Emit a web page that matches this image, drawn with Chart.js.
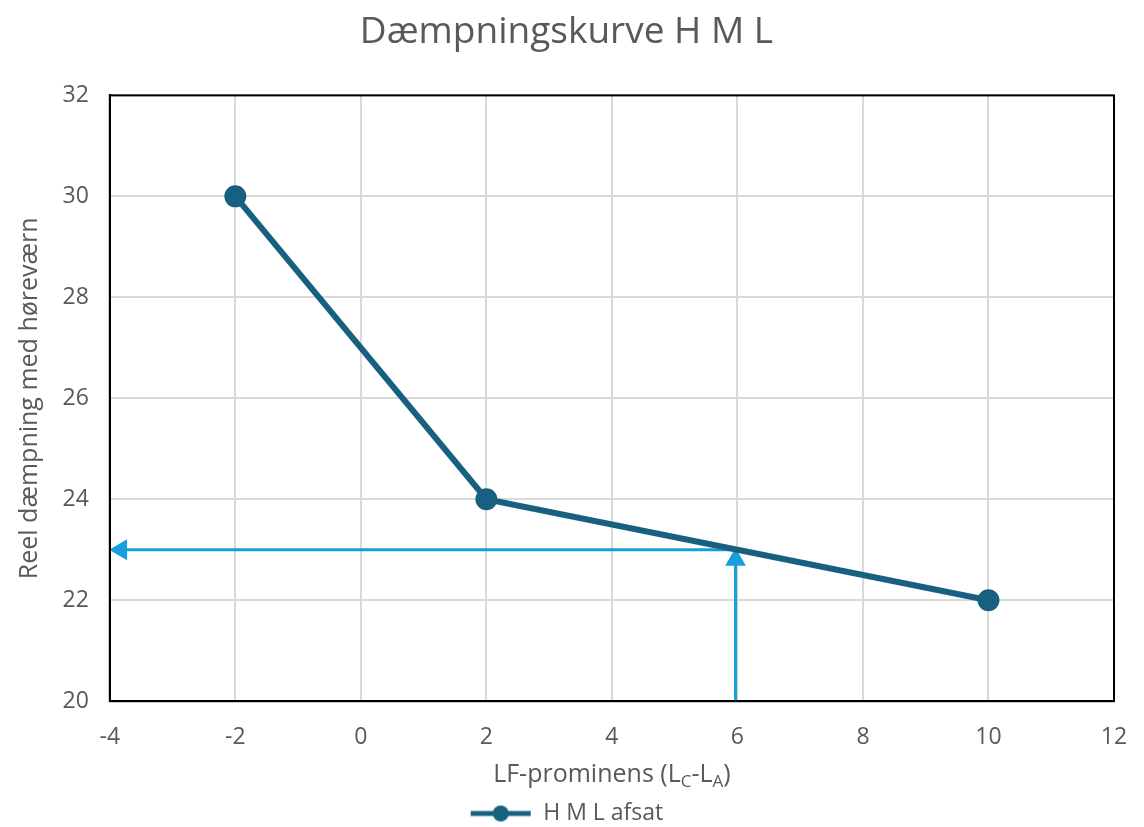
<!DOCTYPE html>
<html>
<head>
<meta charset="utf-8">
<script src="https://cdn.jsdelivr.net/npm/chart.js@4"></script>
<style>
  body { margin: 0; background: #fff; }
  #wrap { width: 1144px; height: 827px; }
</style>
</head>
<body>
<div id="wrap"><canvas id="myChart" width="1144" height="827"></canvas></div>
<script>
// data
const xValues = [-2, 2, 10];
const yValues = [30, 24, 22];
const seriesName = 'H M L afsat';
// reading arrows: from x=6 up to the curve, then across to the y axis
const readX = 6;
const readY = 23;
const arrowEndX = -3.82;
const yMinTick = 20;

const lineColor = 'rgb(24, 96, 128)';
const arrowColor = 'rgb(22, 160, 219)';
const textColor = '#595959';
const fontFam = '"Open Sans", "Noto Sans", sans-serif';

const points = xValues.map((x, i) => ({ x: x, y: yValues[i] }));

// legend symbol: line with a dot
function legendIcon() {
  const c = document.createElement('canvas');
  c.width = 62; c.height = 18;
  const g = c.getContext('2d');
  g.strokeStyle = lineColor; g.lineWidth = 5;
  g.beginPath(); g.moveTo(1, 9); g.lineTo(61, 9); g.stroke();
  g.fillStyle = lineColor;
  g.beginPath(); g.arc(31, 9, 8, 0, Math.PI * 2); g.fill();
  return c;
}
const icon = legendIcon();

// frame round the plot and the x title with subscripts
const frame = {
  id: 'frame',
  afterDraw(chart) {
    const a = chart.chartArea, ctx = chart.ctx;
    ctx.save();
    ctx.strokeStyle = '#000';
    ctx.lineWidth = 2;
    ctx.strokeRect(a.left, a.top, a.right - a.left, a.bottom - a.top);

    const parts = [['LF-prominens (L', 0], ['C', 1], ['-L', 0], ['A', 1], [')', 0]];
    const big = '25px ' + fontFam, small = '17px ' + fontFam;
    let w = 0;
    parts.forEach(p => { ctx.font = p[1] ? small : big; w += ctx.measureText(p[0]).width; });
    let x = (a.left + a.right) / 2 - w / 2;
    const y = 775;
    ctx.fillStyle = textColor;
    ctx.textBaseline = 'middle';
    parts.forEach(p => {
      ctx.font = p[1] ? small : big;
      ctx.fillText(p[0], x, p[1] ? y + 7 : y);
      x += ctx.measureText(p[0]).width;
    });
    ctx.restore();
  }
};

const data = {
  datasets: [
    {
      label: seriesName,
      data: points,
      borderColor: lineColor,
      backgroundColor: lineColor,
      borderWidth: 6,
      pointRadius: 8,
      pointHoverRadius: 8,
      showLine: true,
      order: 0
    },
    {
      label: 'arrowH',
      data: [{ x: readX, y: readY }, { x: arrowEndX, y: readY }],
      borderColor: arrowColor,
      backgroundColor: arrowColor,
      borderWidth: 3,
      pointStyle: 'triangle',
      pointRadius: [0, 9],
      rotation: [0, -90],
      showLine: true,
      order: 1
    },
    {
      label: 'arrowV',
      data: [{ x: readX - 0.03, y: yMinTick }, { x: readX - 0.03, y: readY - 0.2 }],
      borderColor: arrowColor,
      backgroundColor: arrowColor,
      borderWidth: 3,
      pointStyle: 'triangle',
      pointRadius: [0, 9],
      rotation: [0, 0],
      showLine: true,
      order: 1
    }
  ]
};

const config = {
  type: 'scatter',
  data: data,
  options: {
    responsive: false,
    animation: false,
    layout: { padding: { left: 19, right: 30, top: 4, bottom: -8 } },
    plugins: {
      title: {
        display: true,
        text: 'Dæmpningskurve H M L',
        color: textColor,
        font: { family: fontFam, size: 37, weight: 'normal' },
        padding: { top: 6, bottom: 41 }
      },
      legend: {
        position: 'bottom',
        labels: {
          color: textColor,
          font: { family: fontFam, size: 23 },
          usePointStyle: true,
          pointStyleWidth: 62,
          padding: 0,
          filter: (item) => item.datasetIndex === 0,
          generateLabels: (chart) => [{
            text: seriesName,
            fontColor: textColor,
            pointStyle: icon,
            datasetIndex: 0,
            lineWidth: 0,
            strokeStyle: 'transparent',
            fillStyle: 'transparent'
          }]
        }
      },
      tooltip: { enabled: false }
    },
    scales: {
      x: {
        type: 'linear',
        min: -4, max: 12,
        afterFit: (scale) => { scale.paddingRight = 14; scale.paddingLeft = 14; },
        ticks: { stepSize: 2, color: textColor, font: { family: fontFam, size: 23 }, padding: 22 },
        grid: { color: '#d9d9d9', lineWidth: 2, drawTicks: false },
        border: { color: '#000', width: 2 },
        title: {
          display: true,
          text: 'LF-prominens (LC-LA)',
          color: 'rgba(0,0,0,0)',
          font: { family: fontFam, size: 16 },
          padding: { top: 0, bottom: 10 }
        }
      },
      y: {
        min: 20, max: 32,
        ticks: { stepSize: 2, color: textColor, font: { family: fontFam, size: 23 }, padding: 21 },
        grid: { color: '#d9d9d9', lineWidth: 2, drawTicks: false },
        border: { color: '#000', width: 2 },
        title: {
          display: true,
          text: 'Reel dæmpning med høreværn',
          color: textColor,
          font: { family: fontFam, size: 25, lineHeight: 0.9 },
          padding: { top: 0, bottom: 0 }
        }
      }
    }
  },
  plugins: [frame]
};

const myChart = new Chart(document.getElementById('myChart'), config);
</script>
</body>
</html>
